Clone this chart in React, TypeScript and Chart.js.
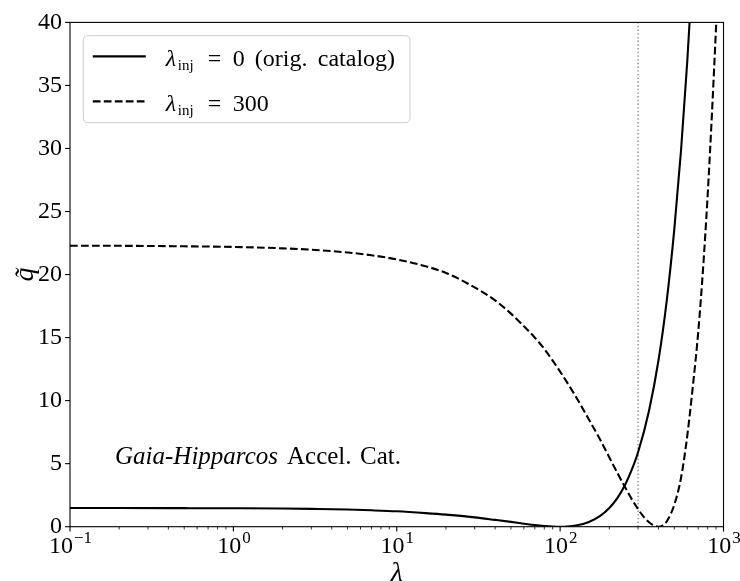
import React, { useEffect, useRef } from 'react';
import { Chart, registerables } from 'chart.js';

Chart.register(...registerables);

// ---- data ----
const LAMBDA_SOLID = [0.1, 0.2, 0.5, 1, 2, 3, 5, 7, 10, 15, 20, 30, 40, 50, 60, 70, 80, 90, 100, 110, 125, 150, 175, 200, 225, 250, 275, 300, 350, 400, 450, 500, 550, 600, 650];
const Q_SOLID = [1.48, 1.48, 1.47, 1.46, 1.44, 1.41, 1.36, 1.3, 1.22, 1.08, 0.96, 0.74, 0.54, 0.38, 0.24, 0.13, 0.06, 0.015, 0, 0.015, 0.09, 0.37, 0.83, 1.48, 2.31, 3.33, 4.54, 5.9, 9.2, 13.2, 18.0, 23.6, 29.9, 36.9, 44.6];

const LAMBDA_DASHED = [0.1, 0.2, 0.5, 1, 2, 3, 5, 7, 10, 15, 20, 30, 40, 50, 60, 70, 80, 100, 125, 150, 175, 200, 225, 250, 275, 300, 325, 350, 375, 400, 425, 450, 500, 550, 600, 650, 700, 750, 800, 850, 900, 950];
const Q_DASHED = [22.29, 22.28, 22.24, 22.19, 22.08, 21.97, 21.75, 21.53, 21.2, 20.66, 20.13, 18.98, 17.95, 16.9, 15.9, 15.0, 14.1, 12.3, 10.3, 8.5, 6.95, 5.5, 4.22, 3.12, 2.17, 1.39, 0.78, 0.35, 0.09, 0, 0.11, 0.43, 1.75, 3.9, 7.2, 11.2, 15.4, 20.5, 26.3, 32.8, 39.6, 46.5];

const LAMBDA_MARK = 300;
const X_MAJOR = [0.1, 1, 10, 100, 1000];
const X_EXPONENTS = ['\u22121', '0', '1', '2', '3'];
const Y_MIN = 0;
const Y_MAX = 40;
const Y_STEP = 5;
// legend text pieces after "λ_inj"
const LEGEND_PIECES = [
  ['=', '0', '(orig.', 'catalog)'],
  ['=', '300'],
];
const ANNOT_PIECES = ['Gaia-Hipparcos', 'Accel.', 'Cat.'];

const FONT = "'Liberation Serif', 'DejaVu Serif', serif";

const decorPlugin = {
  id: 'mplDecor',
  afterDraw(chart: any) {
    const { ctx, chartArea: a, scales } = chart;
    const xs = scales.x;
    const ys = scales.y;
    ctx.save();

    // spines
    ctx.strokeStyle = '#000';
    ctx.lineWidth = 1.1;
    ctx.strokeRect(a.left, a.top, a.right - a.left, a.bottom - a.top);

    const seg = (x1: number, y1: number, x2: number, y2: number) => {
      ctx.beginPath();
      ctx.moveTo(x1, y1);
      ctx.lineTo(x2, y2);
      ctx.stroke();
    };

    // x major ticks
    ctx.lineWidth = 1.1;
    X_MAJOR.forEach((v) => {
      const px = xs.getPixelForValue(v);
      seg(px, a.bottom, px, a.bottom + 4.9);
    });
    // x minor ticks
    ctx.lineWidth = 0.8;
    for (let d = 0; d < X_MAJOR.length - 1; d++) {
      for (let k = 2; k <= 9; k++) {
        const px = xs.getPixelForValue(X_MAJOR[d] * k);
        seg(px, a.bottom, px, a.bottom + 2.8);
      }
    }
    // y ticks
    ctx.lineWidth = 1.1;
    for (let v = Y_MIN; v <= Y_MAX; v += Y_STEP) {
      const py = ys.getPixelForValue(v);
      seg(a.left, py, a.left - 4.9, py);
    }

    // x tick labels 10^n
    ctx.fillStyle = '#000';
    ctx.textBaseline = 'alphabetic';
    ctx.textAlign = 'left';
    X_MAJOR.forEach((v, i) => {
      const px = xs.getPixelForValue(v);
      ctx.font = `24px ${FONT}`;
      const wb = ctx.measureText('10').width;
      ctx.font = `17px ${FONT}`;
      const we = ctx.measureText(X_EXPONENTS[i]).width;
      const x0 = px - (wb + we) / 2;
      ctx.font = `24px ${FONT}`;
      ctx.fillText('10', x0, a.bottom + 26);
      ctx.font = `17px ${FONT}`;
      ctx.fillText(X_EXPONENTS[i], x0 + wb + 1, a.bottom + 16);
    });

    // legend
    const lx = a.left + 13.3;
    const ly = a.top + 13.3;
    const lw = 326.7;
    const lh = 87;
    const r = 5;
    ctx.beginPath();
    ctx.moveTo(lx + r, ly);
    ctx.lineTo(lx + lw - r, ly);
    ctx.quadraticCurveTo(lx + lw, ly, lx + lw, ly + r);
    ctx.lineTo(lx + lw, ly + lh - r);
    ctx.quadraticCurveTo(lx + lw, ly + lh, lx + lw - r, ly + lh);
    ctx.lineTo(lx + r, ly + lh);
    ctx.quadraticCurveTo(lx, ly + lh, lx, ly + lh - r);
    ctx.lineTo(lx, ly + r);
    ctx.quadraticCurveTo(lx, ly, lx + r, ly);
    ctx.closePath();
    ctx.fillStyle = 'rgba(255,255,255,0.8)';
    ctx.fill();
    ctx.strokeStyle = '#cccccc';
    ctx.lineWidth = 1;
    ctx.stroke();

    const rows = [
      { y: a.top + 34, dash: [] as number[] },
      { y: a.top + 79, dash: [7.7, 3.3] },
    ];
    const pieceOffsets = [42, 67, 89, 152];
    rows.forEach((row, i) => {
      ctx.strokeStyle = '#000';
      ctx.lineWidth = 2.1;
      ctx.setLineDash(row.dash);
      seg(lx + 9.5, row.y, lx + 62.5, row.y);
      ctx.setLineDash([]);
      const base = row.y + 9.5;
      const tx = lx + 82.5;
      ctx.fillStyle = '#000';
      ctx.font = `italic 24px ${FONT}`;
      ctx.fillText('\u03bb', tx, base);
      ctx.font = `15px ${FONT}`;
      ctx.fillText('inj', tx + 12, base + 4.5);
      ctx.font = `24px ${FONT}`;
      LEGEND_PIECES[i].forEach((p, j) => {
        ctx.fillText(p, tx + pieceOffsets[j], base);
      });
    });

    // annotation
    const ayp = a.bottom - 63;
    const annotOffsets = [45, 217, 290];
    ANNOT_PIECES.forEach((p, j) => {
      ctx.font = j === 0 ? `italic 25px ${FONT}` : `25px ${FONT}`;
      ctx.fillText(p, a.left + annotOffsets[j], ayp);
    });

    ctx.restore();
  },
};

export default function App() {
  const ref = useRef<HTMLCanvasElement | null>(null);

  useEffect(() => {
    if (!ref.current) return;
    const solid = LAMBDA_SOLID.map((x, i) => ({ x, y: Q_SOLID[i] }));
    const dashed = LAMBDA_DASHED.map((x, i) => ({ x, y: Q_DASHED[i] }));
    const mark = [
      { x: LAMBDA_MARK, y: Y_MIN },
      { x: LAMBDA_MARK, y: Y_MAX },
    ];
    const chart = new Chart(ref.current, {
      type: 'line',
      data: {
        datasets: [
          {
            label: 'lambda_inj = 0 (orig. catalog)',
            data: solid,
            borderColor: '#000',
            borderWidth: 2.1,
            pointRadius: 0,
            cubicInterpolationMode: 'monotone',
            fill: false,
          },
          {
            label: 'lambda_inj = 300',
            data: dashed,
            borderColor: '#000',
            borderWidth: 2.1,
            borderDash: [7.7, 3.3],
            pointRadius: 0,
            cubicInterpolationMode: 'monotone',
            fill: false,
          },
          {
            label: 'mark',
            data: mark,
            borderColor: '#808080',
            borderWidth: 1.3,
            borderDash: [1.4, 2.3],
            pointRadius: 0,
            fill: false,
          },
        ],
      },
      options: {
        animation: false,
        responsive: false,
        maintainAspectRatio: false,
        devicePixelRatio: 1,
        layout: { padding: { left: 0, right: 16.5, top: 17.7, bottom: 0 } },
        plugins: { legend: { display: false }, tooltip: { enabled: false } },
        scales: {
          x: {
            type: 'logarithmic',
            min: 0.1,
            max: 1000,
            grid: { display: false, drawTicks: false },
            border: { display: false },
            ticks: { display: false },
            title: {
              display: true,
              text: '\u03bb',
              color: '#000',
              font: { family: FONT, size: 28, style: 'italic' },
              padding: { top: 0, bottom: -9 },
            },
            afterFit: (s: any) => {
              s.height = 54.3;
            },
          },
          y: {
            type: 'linear',
            min: Y_MIN,
            max: Y_MAX,
            grid: { display: false, drawTicks: false },
            border: { display: false },
            ticks: {
              stepSize: Y_STEP,
              color: '#000',
              padding: 8,
              font: { family: FONT, size: 24 },
            },
            title: {
              display: true,
              text: 'q\u0303',
              color: '#000',
              font: { family: FONT, size: 28, style: 'italic' },
              padding: { top: 9, bottom: 0 },
            },
            afterFit: (s: any) => {
              s.width = 70;
            },
          },
        },
      },
      plugins: [decorPlugin],
    } as any);
    return () => chart.destroy();
  }, []);

  return (
    <div style={{ position: 'absolute', left: 0, top: 0, width: 740, height: 581, background: '#fff' }}>
      <canvas ref={ref} width={740} height={581} style={{ display: 'block' }} />
    </div>
  );
}
